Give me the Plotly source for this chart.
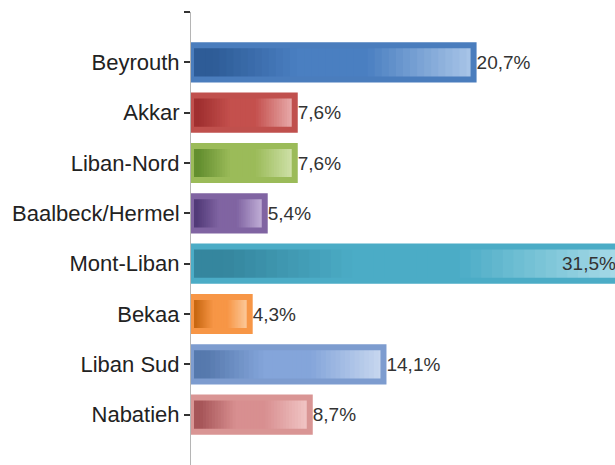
import plotly.graph_objects as go

categories = ["Beyrouth", "Akkar", "Liban-Nord", "Baalbeck/Hermel",
              "Mont-Liban", "Bekaa", "Liban Sud", "Nabatieh"]
values = [20.7, 7.6, 7.6, 5.4, 31.5, 4.3, 14.1, 8.7]
labels = ["20,7%", "7,6%", "7,6%", "5,4%", "31,5%", "4,3%", "14,1%", "8,7%"]
axis_categories = [" "] + categories

dark = ["#2e5c97", "#a03030", "#648f30", "#523a78", "#35869e", "#c86812", "#5679ad", "#a65558"]
mid = ["#4a7fc1", "#c4504d", "#9bbb59", "#8064a2", "#4bacc6", "#f79646", "#84a5da", "#d88f90"]
light = ["#aac6e8", "#eab0b0", "#d2e3ad", "#c7b6dc", "#a8dbe8", "#fcd0a6", "#cad9f0", "#f2c8c8"]
border = ["#4a7dbd", "#c0504d", "#9bbb59", "#8064a2", "#4bacc6", "#f79646", "#7d9ccf", "#d99594"]

FONT = "Liberation Sans, Arial"


def hex2rgb(h):
    h = h.lstrip("#")
    return [int(h[i:i + 2], 16) for i in (0, 2, 4)]


def interp(t, d, m, l):
    stops = [(0.0, hex2rgb(d)), (0.08, hex2rgb(d)), (0.38, hex2rgb(m)),
             (0.62, hex2rgb(m)), (1.0, hex2rgb(l))]
    for (t0, c0), (t1, c1) in zip(stops[:-1], stops[1:]):
        if t0 <= t <= t1:
            f = (t - t0) / (t1 - t0) if t1 > t0 else 0
            c = [round(a + (b - a) * f) for a, b in zip(c0, c1)]
            return "rgb(%d,%d,%d)" % tuple(c)
    return "rgb(%d,%d,%d)" % tuple(stops[-1][1])


N = 40
fig = go.Figure()
for i in range(N):
    t = (i + 0.5) / N
    bases = [v * i / N for v in values]
    fig.add_trace(go.Bar(
        y=categories,
        x=[min(2 * v / N, v - b) for v, b in zip(values, bases)],
        base=bases,
        orientation="h",
        width=0.68,
        marker=dict(color=[interp(t, d, m, l) for d, m, l in zip(dark, mid, light)],
                    line=dict(width=0)),
        hoverinfo="skip",
        showlegend=False,
    ))

imax = values.index(max(values))
fig.add_trace(go.Bar(
    y=categories,
    x=values,
    orientation="h",
    width=0.68,
    marker=dict(color="rgba(0,0,0,0)", line=dict(color=border, width=6)),
    text=labels,
    textposition=["none" if k == imax else "outside" for k in range(len(values))],
    constraintext="none",
    textfont=dict(size=19, color="#333333", family=FONT),
    outsidetextfont=dict(size=19, color="#333333", family=FONT),
    showlegend=False,
))

fig.add_annotation(
    xref="paper", x=1, xanchor="right", xshift=3,
    yref="y", y=categories[imax],
    text=labels[imax], showarrow=False,
    font=dict(size=19, color="#333333", family=FONT),
)

fig.update_layout(
    width=615, height=465,
    barmode="overlay",
    margin=dict(l=191, r=0, t=12, b=0),
    paper_bgcolor="white",
    plot_bgcolor="white",
    xaxis=dict(visible=False, range=[0, 31.06], fixedrange=True),
    yaxis=dict(
        type="category",
        categoryorder="array",
        categoryarray=axis_categories,
        range=[9.0, 0],
        showline=True, linecolor="#b5b5b5", linewidth=1,
        ticks="outside", ticklen=6, tickcolor="#333333", tickwidth=1.5,
        tickfont=dict(size=22, color="#222222", family=FONT),
        showgrid=False, zeroline=False, automargin=False, fixedrange=True,
    ),
)

fig.write_html(
    "out.html",
    config={"displayModeBar": False},
    post_script="document.body.style.margin='0';document.body.style.overflow='hidden';",
)
